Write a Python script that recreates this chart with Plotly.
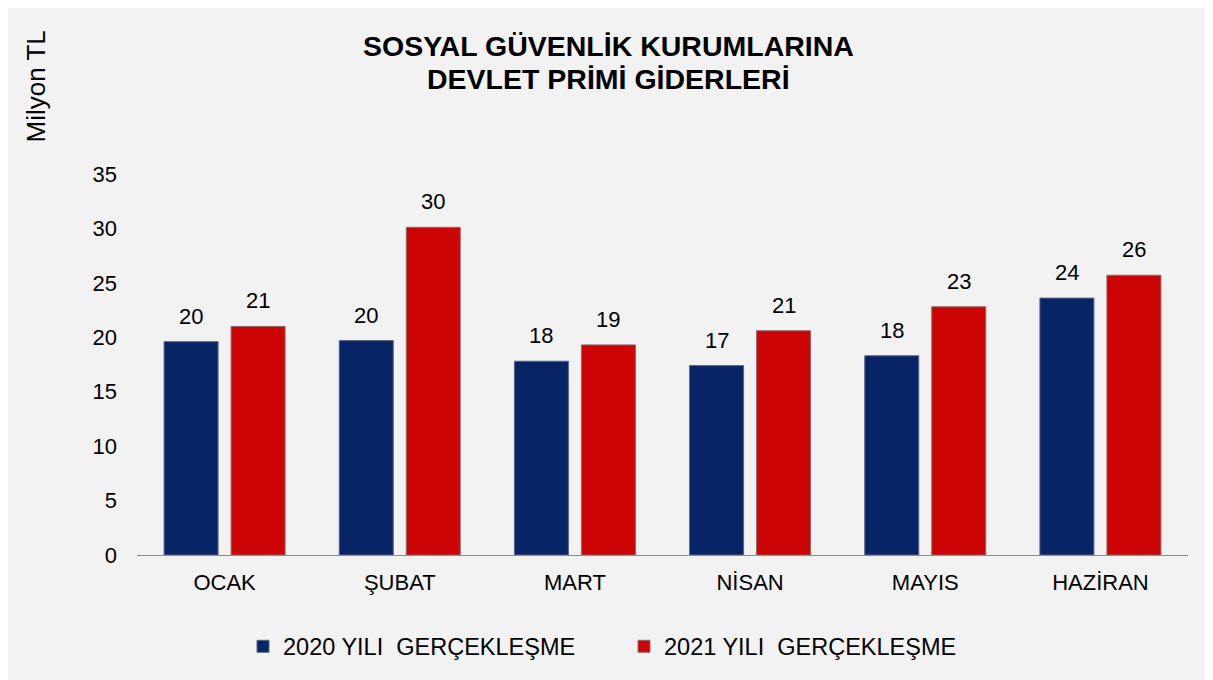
import plotly.graph_objects as go

# data (Milyon TL)
months = ["OCAK", "ŞUBAT", "MART", "NİSAN", "MAYIS", "HAZİRAN"]
values_2020 = [19.6, 19.7, 17.8, 17.4, 18.3, 23.6]
values_2021 = [21.0, 30.1, 19.3, 20.6, 22.8, 25.7]
series_names = ["2020 YILI\u00a0 GERÇEKLEŞME", "2021 YILI\u00a0 GERÇEKLEŞME"]
title_lines = ["SOSYAL GÜVENLİK KURUMLARINA", "DEVLET PRİMİ GİDERLERİ"]

font_family = "Liberation Sans, Arial, sans-serif"

# figure is drawn 8px in from the page edge (body margin)
W, H = 1205, 672
left, right, top, bottom = 129, 25, 166, 123
pw, ph = W - left - right, H - top - bottom
bargap, groupgap = 0.235, 0.194


def px(x):
    # figure pixel x -> paper x
    return (x - left) / pw


def py(y):
    # figure pixel y (from top) -> paper y
    return (H - bottom - y) / ph


colors = ["#072566", "#cc0404"]
outlines = ["#5a6684", "#8a6a6a"]

fig = go.Figure()
for name, vals, col, ol in zip(series_names, [values_2020, values_2021], colors, outlines):
    fig.add_trace(go.Bar(
        x=months, y=vals, name=name,
        marker=dict(color=col, line=dict(color=ol, width=1)),
    ))

# value labels above the bars
slot = pw / len(months) * (1 - bargap) / 2
for i, vals in enumerate([values_2020, values_2021]):
    shift = (i - 0.5) * slot
    for m, v in zip(months, vals):
        fig.add_annotation(
            x=m, y=v, text=f"{v:.0f}", showarrow=False,
            xshift=shift, yshift=11, yanchor="bottom",
            font=dict(size=22, color="#000000"),
        )

# title, two lines
for line, yc in zip(title_lines, [37, 70]):
    fig.add_annotation(
        text=f"<b>{line}</b>", showarrow=False,
        xref="paper", yref="paper", x=px(600), y=py(yc),
        xanchor="center", yanchor="middle",
        font=dict(size=28.5, color="#000000"),
    )

fig.add_annotation(
    text="Milyon TL", textangle=-90, showarrow=False,
    xref="paper", yref="paper", x=px(28), y=py(78),
    xanchor="center", yanchor="middle",
    font=dict(size=26, color="#000000"),
)

fig.update_layout(
    width=W, height=H,
    margin=dict(l=left, r=right, t=top, b=bottom),
    paper_bgcolor="#f2f2f2", plot_bgcolor="#f2f2f2",
    font=dict(family=font_family, size=22, color="#000000"),
    barmode="group", bargap=bargap, bargroupgap=groupgap,
    xaxis=dict(
        showline=True, linecolor="#8c8c8c", linewidth=1,
        ticks="", tickfont=dict(size=22), showgrid=False,
        ticklabelstandoff=8,
    ),
    yaxis=dict(
        range=[0, 35], dtick=5, showgrid=False, zeroline=False,
        showline=False, ticks="", tickfont=dict(size=22), ticklabelstandoff=19,
    ),
    legend=dict(
        orientation="h", x=px(616), xanchor="center", y=py(641), yanchor="middle",
        font=dict(size=23.5), itemwidth=30, traceorder="normal",
        entrywidth=336, entrywidthmode="pixels",
        bgcolor="rgba(0,0,0,0)",
    ),
)

fig.write_html("out.html")
